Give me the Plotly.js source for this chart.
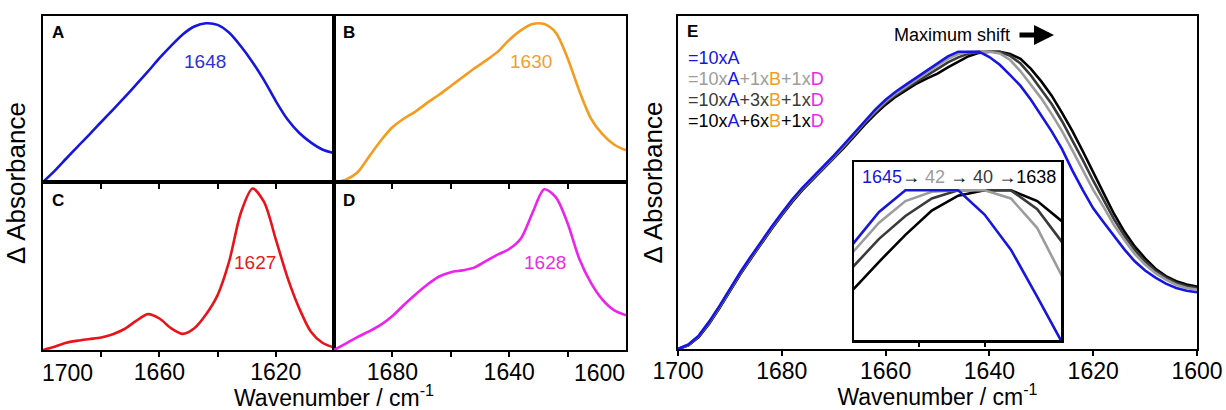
<!DOCTYPE html>
<html>
<head>
<meta charset="utf-8">
<script src="https://cdn.plot.ly/plotly-3.0.1.min.js"></script>
<style>html,body{margin:0;padding:0;background:#fff;}#chart{width:1226px;height:410px;}</style>
</head>
<body>
<div id="chart"></div>
<script>
// ---- data ----
const WN = [1700,1696,1692,1688,1684,1680,1676,1672,1668,1664,1660,1656,1652,1648,1644,1640,1636,1632,1628,1624,1620,1616,1612,1608,1604,1600];
const specA = [0,0.07,0.148,0.225,0.30,0.378,0.455,0.533,0.613,0.695,0.78,0.858,0.93,0.98,1.0,0.99,0.94,0.855,0.755,0.64,0.51,0.395,0.31,0.25,0.205,0.182];
const specB = [0,0.015,0.06,0.16,0.26,0.345,0.40,0.445,0.50,0.55,0.605,0.66,0.715,0.765,0.82,0.895,0.955,0.995,0.995,0.94,0.78,0.575,0.40,0.30,0.235,0.20];
const specC = [0,0.02,0.045,0.058,0.068,0.078,0.098,0.13,0.18,0.222,0.195,0.135,0.10,0.135,0.22,0.34,0.55,0.85,1.0,0.915,0.685,0.45,0.26,0.115,0.045,0.015];
const specD = [0,0.04,0.08,0.115,0.155,0.21,0.28,0.345,0.405,0.455,0.482,0.493,0.51,0.55,0.59,0.625,0.69,0.85,0.995,0.945,0.785,0.565,0.415,0.31,0.245,0.215];

const WN_E = [1700,1698,1696,1694,1692,1690,1688,1686,1684,1682,1680,1678,1676,1674,1672,1670,1668,1666,1664,1662,1660,1658,1656,1654,1652,1650,1648,1646,1644,1642,1640,1638,1636,1634,1632,1630,1628,1626,1624,1622,1620,1618,1616,1614,1612,1610,1608,1606,1604,1602,1600];
const mix10A = [0,0.015,0.045,0.092,0.145,0.203,0.258,0.31,0.361,0.41,0.457,0.503,0.543,0.578,0.613,0.65,0.688,0.728,0.768,0.805,0.838,0.866,0.89,0.914,0.937,0.96,0.984,1.0,1.0,1.0,0.982,0.956,0.921,0.885,0.838,0.786,0.732,0.672,0.6,0.534,0.473,0.426,0.38,0.335,0.295,0.264,0.24,0.22,0.205,0.196,0.191];
const mix1B = [0,0.014,0.044,0.09,0.143,0.201,0.256,0.308,0.359,0.408,0.455,0.501,0.541,0.576,0.61,0.647,0.685,0.725,0.764,0.8,0.833,0.86,0.884,0.907,0.929,0.954,0.976,0.992,0.999,1.0,1.0,0.994,0.972,0.934,0.89,0.843,0.79,0.733,0.668,0.6,0.535,0.478,0.417,0.367,0.32,0.284,0.255,0.233,0.216,0.205,0.2];
const mix3B = [0,0.013,0.042,0.087,0.14,0.198,0.253,0.305,0.356,0.405,0.452,0.498,0.538,0.573,0.607,0.643,0.681,0.72,0.76,0.795,0.828,0.855,0.878,0.9,0.92,0.943,0.964,0.981,0.994,1.0,1.0,1.0,0.986,0.96,0.92,0.874,0.824,0.766,0.703,0.635,0.566,0.502,0.437,0.381,0.333,0.295,0.263,0.24,0.222,0.211,0.205];
const mix6B = [0,0.012,0.04,0.085,0.138,0.196,0.251,0.303,0.354,0.403,0.45,0.495,0.535,0.57,0.604,0.64,0.677,0.716,0.755,0.79,0.822,0.849,0.872,0.893,0.91,0.926,0.947,0.967,0.985,0.996,1.0,1.0,0.992,0.976,0.942,0.9,0.852,0.794,0.733,0.665,0.592,0.524,0.455,0.395,0.345,0.305,0.27,0.245,0.228,0.217,0.21];

const peakLabels = ["1648","1630","1627","1628"];
const ticksE = [1700,1680,1660,1640,1620,1600];

// ---- styles ----
const W = 1226, H = 410;
const FONT = "Liberation Sans, Arial, sans-serif";
const cBlue = "#1616e0", cOrange = "#f39c1f", cRed = "#e8141a", cMag = "#ee22ee";
const cGrey = "#9c9c9c", cDark = "#3a3a3a", cBlack = "#000000";
const px = v => v / W;
const py = v => 1 - v / H;

function line(x, y, color, xa, ya, shape) {
  return {x: x, y: y, type: "scatter", mode: "lines", xaxis: xa, yaxis: ya,
          line: {color: color, width: 2.6, shape: shape || "linear", smoothing: 0.8},
          hoverinfo: "skip"};
}

const traces = [
  line(WN, specA, cBlue, "x", "y", "spline"),
  line(WN, specB, cOrange, "x2", "y2", "spline"),
  line(WN, specC, cRed, "x3", "y3", "spline"),
  line(WN, specD, cMag, "x4", "y4", "spline"),
  line(WN_E, mix6B, cBlack, "x5", "y5"),
  line(WN_E, mix3B, cDark, "x5", "y5"),
  line(WN_E, mix1B, cGrey, "x5", "y5"),
  line(WN_E, mix10A, cBlue, "x5", "y5"),
  line(WN_E, mix6B, cBlack, "x6", "y6"),
  line(WN_E, mix3B, cDark, "x6", "y6"),
  line(WN_E, mix1B, cGrey, "x6", "y6"),
  line(WN_E, mix10A, cBlue, "x6", "y6")
];

function xax(d, anchor, opts) {
  return Object.assign({
    domain: d, anchor: anchor, range: [1700, 1600], showline: true, linewidth: 2, linecolor: "#000",
    mirror: true, showgrid: false, zeroline: false, ticks: "outside", ticklen: 5, tickwidth: 2,
    tickcolor: "#000", tickvals: [1680, 1660, 1640, 1620], showticklabels: false,
    ticklabelstandoff: -5,
    tickfont: {family: FONT, size: 23, color: "#000"}
  }, opts || {});
}
function yax(d, anchor, range, opts) {
  return Object.assign({
    domain: d, anchor: anchor, range: range, showline: true, linewidth: 2, linecolor: "#000",
    mirror: true, showgrid: false, zeroline: false, ticks: "", showticklabels: false
  }, opts || {});
}
const minorTicks = vals => ({tickvals: vals, ticks: "outside", ticklen: 5, tickwidth: 2, tickcolor: "#000", showgrid: false});

const dxL = [px(43), px(334)], dxR = [px(334), px(626)];
const dyTop = [py(182), py(16)], dyBot = [py(350), py(182)];

function span(t, c) { return '<span style="color:' + c + '">' + t + '</span>'; }

const layout = {
  width: W, height: H, margin: {l: 0, r: 0, t: 0, b: 0},
  paper_bgcolor: "#fff", plot_bgcolor: "#fff", showlegend: false,
  font: {family: FONT, color: "#000"},
  xaxis: xax(dxL, "y"),
  yaxis: yax(dyTop, "x", [0, 1.046]),
  xaxis2: xax(dxR, "y2"),
  yaxis2: yax(dyTop, "x2", [0, 1.046]),
  xaxis3: xax(dxL, "y3", {tickvals: [1660, 1620], showticklabels: true, minor: minorTicks([1680, 1640])}),
  yaxis3: yax(dyBot, "x3", [0, 1.04]),
  xaxis4: xax(dxR, "y4", {tickvals: [1680, 1640], showticklabels: true, minor: minorTicks([1660, 1620])}),
  yaxis4: yax(dyBot, "x4", [0, 1.04]),
  xaxis5: xax([px(678), px(1197)], "y5", {tickvals: ticksE, showticklabels: true,
    title: {text: "Wavenumber / cm<sup>-1</sup>", font: {family: FONT, size: 23, color: "#000"}, standoff: 7}}),
  yaxis5: yax([py(349), py(16)], "x5", [0, 1.12],
    {title: {text: "\u0394 Absorbance", font: {family: FONT, size: 26, color: "#000"}, standoff: 6}}),
  xaxis6: xax([px(854), px(1061)], "y6", {range: [1649.9, 1634.2], tickvals: [1645, 1640], ticklen: 4, linewidth: 2.5}),
  yaxis6: yax([py(340), py(162)], "x6", [0.889, 1.021], {linewidth: 2.5}),
  annotations: [
    // panel letters
    {text: "<b>A</b>", x: px(50), y: py(33), xref: "paper", yref: "paper", xanchor: "left", yanchor: "middle", showarrow: false, font: {size: 17}},
    {text: "<b>B</b>", x: px(341), y: py(33), xref: "paper", yref: "paper", xanchor: "left", yanchor: "middle", showarrow: false, font: {size: 17}},
    {text: "<b>C</b>", x: px(50), y: py(200), xref: "paper", yref: "paper", xanchor: "left", yanchor: "middle", showarrow: false, font: {size: 17}},
    {text: "<b>D</b>", x: px(341), y: py(200), xref: "paper", yref: "paper", xanchor: "left", yanchor: "middle", showarrow: false, font: {size: 17}},
    {text: "<b>E</b>", x: px(685), y: py(32), xref: "paper", yref: "paper", xanchor: "left", yanchor: "middle", showarrow: false, font: {size: 17}},
    // peak labels
    {text: peakLabels[0], x: 1644.3, y: 0.758, xref: "x", yref: "y", showarrow: false, font: {size: 19, color: "#3030d8"}},
    {text: peakLabels[1], x: 1632.5, y: 0.758, xref: "x2", yref: "y2", showarrow: false, font: {size: 19, color: "#f0a030"}},
    {text: peakLabels[2], x: 1627.1, y: 0.54, xref: "x3", yref: "y3", showarrow: false, font: {size: 19, color: "#e02020"}},
    {text: peakLabels[3], x: 1627.7, y: 0.54, xref: "x4", yref: "y4", showarrow: false, font: {size: 19, color: "#e830e0"}},
    // shifted edge tick labels
    {text: "1700", x: 1700, y: py(373), xref: "x3", yref: "paper", xanchor: "left", yanchor: "middle", xshift: -3, showarrow: false, font: {size: 23}},
    {text: "1600", x: 1600, y: py(373), xref: "x4", yref: "paper", xanchor: "right", yanchor: "middle", xshift: 1, showarrow: false, font: {size: 23}},
    // left block axis titles
    {text: "Wavenumber / cm<sup>-1</sup>", x: px(334), y: py(396), xref: "paper", yref: "paper", xanchor: "center", yanchor: "middle", showarrow: false, font: {size: 23}},
    {text: "\u0394 Absorbance", x: px(16), y: py(183), xref: "paper", yref: "paper", xanchor: "center", yanchor: "middle", textangle: -90, showarrow: false, font: {size: 26}},
    // legend in E
    {text: span("=10xA", cBlue), x: px(686), y: py(58), xref: "paper", yref: "paper", xanchor: "left", yanchor: "middle", showarrow: false, font: {size: 18}},
    {text: span("=10x", cGrey) + span("A", cBlue) + span("+1x", cGrey) + span("B", cOrange) + span("+1x", cGrey) + span("D", cMag), x: px(686), y: py(79), xref: "paper", yref: "paper", xanchor: "left", yanchor: "middle", showarrow: false, font: {size: 18}},
    {text: span("=10x", cDark) + span("A", cBlue) + span("+3x", cDark) + span("B", cOrange) + span("+1x", cDark) + span("D", cMag), x: px(686), y: py(100), xref: "paper", yref: "paper", xanchor: "left", yanchor: "middle", showarrow: false, font: {size: 18}},
    {text: span("=10x", cBlack) + span("A", cBlue) + span("+6x", cBlack) + span("B", cOrange) + span("+1x", cBlack) + span("D", cMag), x: px(686), y: py(121), xref: "paper", yref: "paper", xanchor: "left", yanchor: "middle", showarrow: false, font: {size: 18}},
    // maximum shift
    {text: "Maximum shift", x: px(952), y: py(35), xref: "paper", yref: "paper", xanchor: "center", yanchor: "middle", showarrow: false, font: {size: 18}},
    {text: "", x: px(1054), y: py(35), xref: "paper", yref: "paper", ax: -36, ay: 0, showarrow: true, arrowhead: 2, arrowsize: 0.8, arrowwidth: 5, arrowcolor: "#000", standoff: 0, startstandoff: 0},
    // inset label
    {text: span("1645", cBlue) + span("\u2192 ", cBlack) + span("42", cGrey) + span(" \u2192 ", cBlack) + span("40", cDark) + span(" \u21921638", cBlack),
     x: px(1058), y: py(177), xref: "paper", yref: "paper", xanchor: "right", yanchor: "middle", showarrow: false, font: {size: 18}}
  ]
};

Plotly.newPlot("chart", traces, layout, {staticPlot: true, displayModeBar: false});
</script>
</body>
</html>
